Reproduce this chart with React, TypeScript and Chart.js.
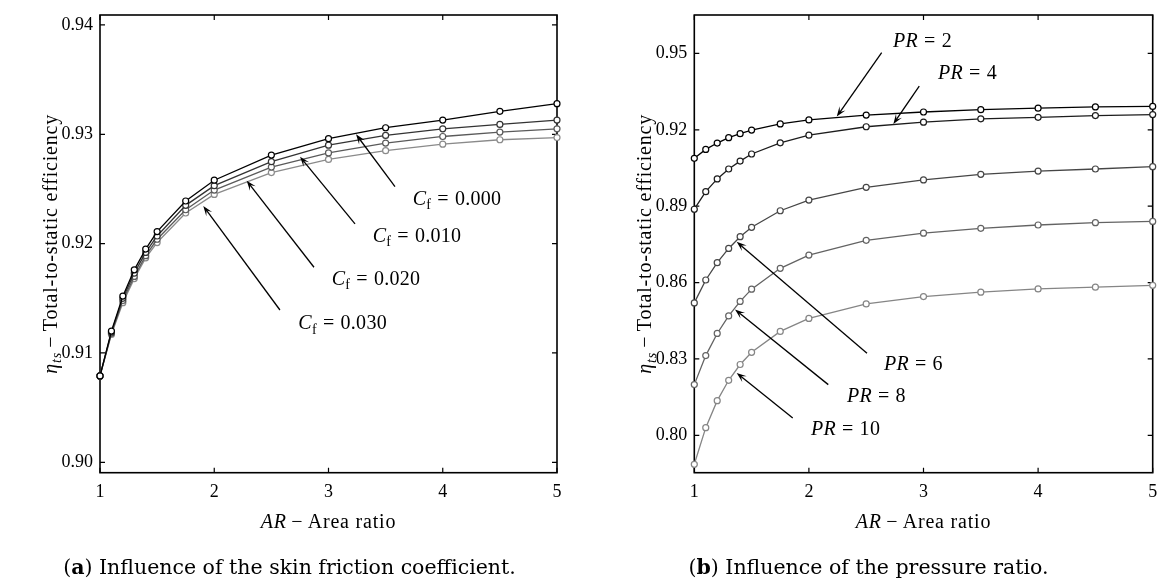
import React, { useEffect, useRef } from "react";
import { Chart, registerables } from "chart.js";

Chart.register(...registerables);

// ---------- data ----------
const AREA_RATIO = [1, 1.1, 1.2, 1.3, 1.4, 1.5, 1.75, 2, 2.5, 3, 3.5, 4, 4.5, 5];

const CF_LABELS = ["0.000", "0.010", "0.020", "0.030"];
const CF_000 = [0.9079, 0.912, 0.9152, 0.9176, 0.9195, 0.9211, 0.9239, 0.9258, 0.9281, 0.9296, 0.9306, 0.9313, 0.9321, 0.9328];
const CF_010 = [0.9079, 0.9119, 0.915, 0.9173, 0.9192, 0.9207, 0.9235, 0.9253, 0.9275, 0.929, 0.9299, 0.9305, 0.9309, 0.9313];
const CF_020 = [0.9079, 0.9118, 0.9148, 0.917, 0.9189, 0.9204, 0.9231, 0.9249, 0.927, 0.9283, 0.9292, 0.9298, 0.9302, 0.9305];
const CF_030 = [0.9079, 0.9117, 0.9146, 0.9168, 0.9187, 0.9201, 0.9228, 0.9245, 0.9265, 0.9277, 0.9285, 0.9291, 0.9295, 0.9297];

const PR_LABELS = ["2", "4", "6", "8", "10"];
const PR_2 = [0.9088, 0.9123, 0.9148, 0.9169, 0.9185, 0.9199, 0.9223, 0.9239, 0.9258, 0.927, 0.9279, 0.9285, 0.929, 0.9292];
const PR_4 = [0.8888, 0.8957, 0.9007, 0.9046, 0.9077, 0.9105, 0.9149, 0.9179, 0.9212, 0.923, 0.9243, 0.9249, 0.9256, 0.926];
const PR_6 = [0.852, 0.861, 0.8678, 0.8734, 0.878, 0.8817, 0.8882, 0.8924, 0.8974, 0.9003, 0.9025, 0.9038, 0.9046, 0.9055];
const PR_8 = [0.8199, 0.8313, 0.84, 0.8469, 0.8526, 0.8574, 0.8656, 0.8708, 0.8766, 0.8794, 0.8813, 0.8826, 0.8835, 0.884];
const PR_10 = [0.7886, 0.803, 0.8136, 0.8216, 0.8278, 0.8326, 0.8408, 0.8459, 0.8516, 0.8545, 0.8562, 0.8575, 0.8582, 0.8589];

const X_TICKS = [1, 2, 3, 4, 5];
const Y_TICKS_A = [0.9, 0.91, 0.92, 0.93, 0.94];
const Y_TICKS_B = [0.8, 0.83, 0.86, 0.89, 0.92, 0.95];

// annotation anchors in data units: arrow tip, arrow tail, label (left, middle)
const CF_NOTES = [
  { tip: [3.241, 0.93], tail: [3.582, 0.92521], at: [3.737, 0.92415] },
  { tip: [2.751, 0.92795], tail: [3.232, 0.9218], at: [3.387, 0.92079] },
  { tip: [2.284, 0.92576], tail: [2.873, 0.91784], at: [3.028, 0.91683] },
  { tip: [1.904, 0.92344], tail: [2.575, 0.91393], at: [2.736, 0.91277] },
];
const PR_NOTES = [
  { tip: [2.243, 0.9252], tail: [2.635, 0.9503], at: [2.734, 0.9553] },
  { tip: [2.737, 0.9223], tail: [2.963, 0.9372], at: [3.127, 0.9427] },
  { tip: [1.37, 0.876], tail: [2.507, 0.8322], at: [2.655, 0.8283] },
  { tip: [1.355, 0.8494], tail: [2.169, 0.8199], at: [2.332, 0.8157] },
  { tip: [1.37, 0.8245], tail: [1.859, 0.8068], at: [2.018, 0.8026] },
];

// ---------- styling ----------
const FAMILY = "'Liberation Serif', serif";
const TICK_SIZE = 18;
const TITLE_SIZE = 20;
const NOTE_SIZE = 20;

type Part = { t: string; italic?: boolean; sub?: boolean; padL?: number; padR?: number };

function fontOf(p: Part, size: number) {
  const s = p.sub ? Math.round(size * 0.7) : size;
  return `${p.italic ? "italic " : ""}${s}px ${FAMILY}`;
}
function partWidth(ctx: CanvasRenderingContext2D, p: Part, size: number) {
  ctx.font = fontOf(p, size);
  return (p.padL || 0) * size + ctx.measureText(p.t).width + (p.padR || 0) * size;
}
function measureRich(ctx: CanvasRenderingContext2D, parts: Part[], size: number, spacing: number) {
  (ctx as any).letterSpacing = spacing + "px";
  let w = 0;
  for (const p of parts) w += partWidth(ctx, p, size);
  return w;
}
function drawRich(ctx: CanvasRenderingContext2D, parts: Part[], x: number, baseline: number, size: number, spacing: number) {
  (ctx as any).letterSpacing = spacing + "px";
  let cx = x;
  ctx.textBaseline = "alphabetic";
  ctx.textAlign = "left";
  for (const p of parts) {
    ctx.font = fontOf(p, size);
    cx += (p.padL || 0) * size;
    ctx.fillText(p.t, cx, p.sub ? baseline + size * 0.22 : baseline);
    cx += ctx.measureText(p.t).width + (p.padR || 0) * size;
  }
  (ctx as any).letterSpacing = "0px";
}
function drawArrow(ctx: CanvasRenderingContext2D, x1: number, y1: number, x2: number, y2: number) {
  const a = Math.atan2(y2 - y1, x2 - x1);
  const c = Math.cos(a), s = Math.sin(a);
  const L = 10, W = 3.6;
  ctx.beginPath();
  ctx.moveTo(x1, y1);
  ctx.lineTo(x2 - c * 4, y2 - s * 4);
  ctx.stroke();
  ctx.beginPath();
  ctx.moveTo(x2, y2);
  ctx.lineTo(x2 - L * c + W * s, y2 - L * s - W * c);
  ctx.lineTo(x2 - 0.55 * L * c, y2 - 0.55 * L * s);
  ctx.lineTo(x2 - L * c - W * s, y2 - L * s + W * c);
  ctx.closePath();
  ctx.fill();
}

type PanelCfg = {
  series: { data: number[]; color: string }[];
  yMin: number;
  yMax: number;
  yTicks: number[];
  yAxisWidth: number;
  padRight: number;
  notes: { tip: number[]; tail: number[]; at: number[] }[];
  noteParts: Part[][];
};

function decorPlugin(cfg: PanelCfg) {
  return {
    id: "decor",
    beforeDatasetsDraw(chart: any) {
      const ctx: CanvasRenderingContext2D = chart.ctx;
      const { left, right, top, bottom } = chart.chartArea;
      const xs = chart.scales.x, ys = chart.scales.y;
      ctx.save();
      ctx.strokeStyle = "#000";
      ctx.lineWidth = 1.6;
      ctx.strokeRect(left, top, right - left, bottom - top);
      ctx.lineWidth = 1.2;
      const T = 5;
      ctx.beginPath();
      for (const v of X_TICKS) {
        const px = xs.getPixelForValue(v);
        ctx.moveTo(px, bottom); ctx.lineTo(px, bottom - T);
        ctx.moveTo(px, top); ctx.lineTo(px, top + T);
      }
      for (const v of cfg.yTicks) {
        const py = ys.getPixelForValue(v);
        ctx.moveTo(left, py); ctx.lineTo(left + T, py);
        ctx.moveTo(right, py); ctx.lineTo(right - T, py);
      }
      ctx.stroke();
      ctx.restore();
    },
    afterDraw(chart: any) {
      const ctx: CanvasRenderingContext2D = chart.ctx;
      const { left, right, top, bottom } = chart.chartArea;
      const xs = chart.scales.x, ys = chart.scales.y;
      ctx.save();
      ctx.fillStyle = "#000";
      ctx.strokeStyle = "#000";
      ctx.lineWidth = 1.3;
      // arrows and labels
      cfg.notes.forEach((n, i) => {
        const tx = xs.getPixelForValue(n.tip[0]), ty = ys.getPixelForValue(n.tip[1]);
        const sx = xs.getPixelForValue(n.tail[0]), sy = ys.getPixelForValue(n.tail[1]);
        drawArrow(ctx, sx, sy, tx, ty);
        const lx = xs.getPixelForValue(n.at[0]), ly = ys.getPixelForValue(n.at[1]);
        drawRich(ctx, cfg.noteParts[i], lx, ly + NOTE_SIZE * 0.34, NOTE_SIZE, 0.3);
      });
      // x title
      const xt: Part[] = [{ t: "AR", italic: true }, { t: "−", padL: 0.22, padR: 0.22 }, { t: "Area ratio" }];
      const xw = measureRich(ctx, xt, TITLE_SIZE, 0.8);
      drawRich(ctx, xt, (left + right) / 2 - xw / 2, bottom + 48 + TITLE_SIZE * 0.34, TITLE_SIZE, 0.8);
      // y title
      const yt: Part[] = [
        { t: "η", italic: true },
        { t: "ts", italic: true, sub: true },
        { t: "−", padL: 0.22, padR: 0.22 },
        { t: "Total-to-static efficiency" },
      ];
      const yw = measureRich(ctx, yt, TITLE_SIZE, 0.8);
      ctx.translate(left - 43, (top + bottom) / 2);
      ctx.rotate(-Math.PI / 2);
      drawRich(ctx, yt, -yw / 2, 0, TITLE_SIZE, 0.8);
      ctx.restore();
    },
  };
}

function buildConfig(cfg: PanelCfg): any {
  return {
    type: "line",
    data: {
      datasets: cfg.series.map((s) => ({
        data: AREA_RATIO.map((x, i) => ({ x, y: s.data[i] })),
        borderColor: s.color,
        borderWidth: 1.3,
        pointRadius: 3,
        pointBorderWidth: 1.2,
        pointBorderColor: s.color,
        pointBackgroundColor: "#fff",
        fill: false,
        tension: 0,
        clip: false,
      })),
    },
    options: {
      responsive: false,
      animation: false,
      events: [],
      layout: { padding: { left: 0, right: cfg.padRight, top: 15, bottom: 0 } },
      plugins: { legend: { display: false }, tooltip: { enabled: false }, title: { display: false } },
      scales: {
        x: {
          type: "linear",
          min: 1,
          max: 5,
          grid: { display: false, drawTicks: false },
          border: { display: false },
          afterBuildTicks: (s: any) => {
            s.ticks = X_TICKS.map((v) => ({ value: v }));
          },
          afterFit: (s: any) => {
            s.height = 105.3;
            s.paddingLeft = 0;
            s.paddingRight = 0;
          },
          ticks: {
            padding: 9,
            color: "#000",
            autoSkip: false,
            maxRotation: 0,
            font: { family: FAMILY, size: TICK_SIZE },
            callback: (v: any) => String(v),
          },
        },
        y: {
          type: "linear",
          min: cfg.yMin,
          max: cfg.yMax,
          grid: { display: false, drawTicks: false },
          border: { display: false },
          afterBuildTicks: (s: any) => {
            s.ticks = cfg.yTicks.map((v) => ({ value: v }));
          },
          afterFit: (s: any) => {
            s.width = cfg.yAxisWidth;
            s.paddingTop = 0;
            s.paddingBottom = 0;
          },
          ticks: {
            padding: 7,
            color: "#000",
            autoSkip: false,
            font: { family: FAMILY, size: TICK_SIZE },
            callback: (v: any) => Number(v).toFixed(2),
          },
        },
      },
    },
    plugins: [decorPlugin(cfg)],
  };
}

const PANEL_A: PanelCfg = {
  series: [
    { data: CF_000, color: "#000000" },
    { data: CF_010, color: "#333333" },
    { data: CF_020, color: "#5a5a5a" },
    { data: CF_030, color: "#8a8a8a" },
  ],
  yMin: 0.89905,
  yMax: 0.94091,
  yTicks: Y_TICKS_A,
  yAxisWidth: 100,
  padRight: 22,
  notes: CF_NOTES,
  noteParts: CF_LABELS.map((l) => [
    { t: "C", italic: true },
    { t: "f", sub: true },
    { t: "=", padL: 0.3, padR: 0.3 },
    { t: l },
  ]),
};

const PANEL_B: PanelCfg = {
  series: [
    { data: PR_2, color: "#000000" },
    { data: PR_4, color: "#1c1c1c" },
    { data: PR_6, color: "#464646" },
    { data: PR_8, color: "#636363" },
    { data: PR_10, color: "#858585" },
  ],
  yMin: 0.7853,
  yMax: 0.9651,
  yTicks: Y_TICKS_B,
  yAxisWidth: 115.3,
  padRight: 5.3,
  notes: PR_NOTES,
  noteParts: PR_LABELS.map((l) => [{ t: "PR", italic: true }, { t: "=", padL: 0.3, padR: 0.3 }, { t: l }]),
};

function Panel({ cfg, left }: { cfg: PanelCfg; left: number }) {
  const ref = useRef<HTMLCanvasElement>(null);
  useEffect(() => {
    const chart = new Chart(ref.current as HTMLCanvasElement, buildConfig(cfg));
    return () => chart.destroy();
  }, [cfg]);
  return (
    <canvas
      ref={ref}
      width={579}
      height={578}
      style={{ position: "absolute", left, top: 0, width: 579, height: 578, display: "block" }}
    />
  );
}

const captionStyle: React.CSSProperties = {
  position: "absolute",
  top: 554,
  width: 579,
  height: 26,
  lineHeight: "26px",
  textAlign: "center",
  fontFamily: "'DejaVu Serif', serif",
  fontSize: 20.5,
  color: "#000",
  whiteSpace: "nowrap",
};

export default function App() {
  return (
    <div style={{ position: "absolute", left: 0, top: 0, width: 1158, height: 578, background: "#fff", overflow: "hidden" }}>
      <Panel cfg={PANEL_A} left={0} />
      <Panel cfg={PANEL_B} left={579} />
      <div style={{ ...captionStyle, left: 0 }}>
        (<b>a</b>) Influence of the skin friction coefficient.
      </div>
      <div style={{ ...captionStyle, left: 579 }}>
        (<b>b</b>) Influence of the pressure ratio.
      </div>
    </div>
  );
}
